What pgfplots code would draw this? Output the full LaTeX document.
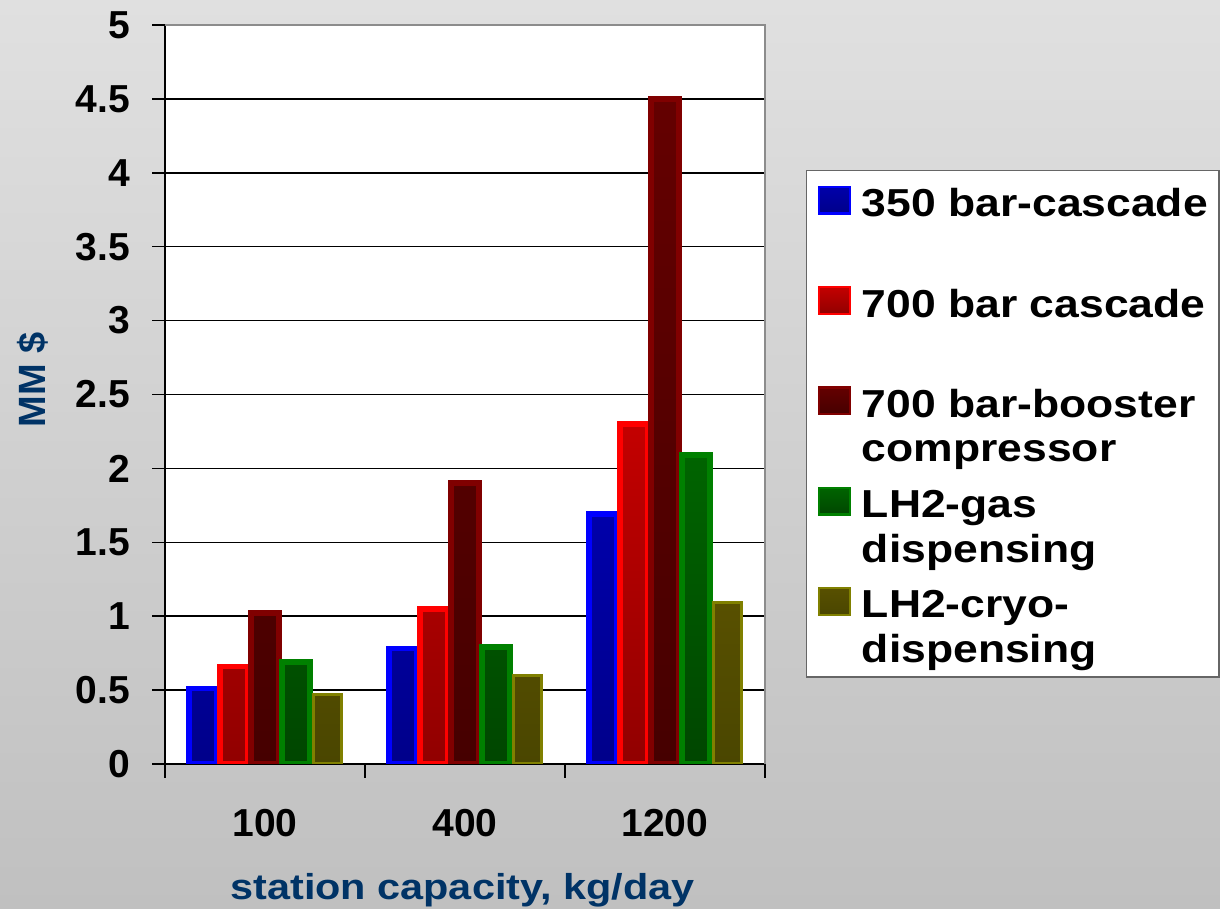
\documentclass[border=0pt]{standalone}
\usepackage{pgfplots}
\pgfplotsset{compat=1.18}
\usepackage{fontspec}
\setmainfont{Liberation Sans}
\usepackage{graphicx}

% page background and label colours
\definecolor{bgtop}{RGB}{224,224,224}
\definecolor{bgbot}{RGB}{192,192,192}
\definecolor{labelblue}{RGB}{0,51,102}

% bar borders and fills (top / bottom of the gradient)
\definecolor{blueB}{RGB}{0,0,255}
\definecolor{blueT}{RGB}{0,0,170}
\definecolor{blueD}{RGB}{0,0,138}
\definecolor{redB}{RGB}{255,0,0}
\definecolor{redT}{RGB}{195,0,0}
\definecolor{redD}{RGB}{145,0,0}
\definecolor{maroonB}{RGB}{128,0,0}
\definecolor{maroonT}{RGB}{100,0,0}
\definecolor{maroonD}{RGB}{70,0,0}
\definecolor{greenB}{RGB}{0,128,0}
\definecolor{greenT}{RGB}{0,100,0}
\definecolor{greenD}{RGB}{0,70,0}
\definecolor{oliveB}{RGB}{128,128,0}
\definecolor{oliveT}{RGB}{88,80,0}
\definecolor{oliveD}{RGB}{74,70,0}

% legend entry text: one or two left-aligned lines, first baseline on the swatch
\newcommand\lent[1]{\scalebox{1.14}[1]{\begin{tabular}[t]{@{}l@{}}#1\end{tabular}}}

\pgfplotsset{
  barleg/.style={legend image code/.code={\draw[##1, line width=1.2pt] (0.6pt,1.6pt) rectangle (16pt,14.9pt);}},
}

\begin{document}
\begin{tikzpicture}
\path[use as bounding box, top color=bgtop, bottom color=bgbot] (0,0) rectangle (610pt,454.5pt);
\begin{axis}[
  at={(82.5pt,72.5pt)}, anchor=south west,
  scale only axis, width=300pt, height=369.5pt,
  xmin=-0.5, xmax=2.5, ymin=0, ymax=5,
  axis lines=left,
  axis line style={-, line width=0.75pt, black},
  axis background/.style={fill=white},
  tick align=outside,
  major tick length=6.5pt,
  ytick={0,0.5,1,1.5,2,2.5,3,3.5,4,4.5,5},
  yticklabels={0,0.5,1,1.5,2,2.5,3,3.5,4,4.5,5},
  ytick style={draw=black, line width=0.75pt},
  xtick={0,1,2},
  xticklabels={100,400,1200},
  xtick style={draw=none},
  extra x ticks={-0.5,0.5,1.5,2.5},
  extra x tick labels={},
  extra x tick style={xtick style={draw=black, line width=0.75pt}, major tick length=7pt},
  ymajorgrids,
  grid style={black, line width=0.75pt},
  tick label style={font=\fontsize{19.5}{23}\selectfont\bfseries, text=black},
  xticklabel style={yshift=-12.5pt},
  yticklabel style={xshift=-7.5pt},
  xlabel={\scalebox{1.15}[1]{station capacity, kg/day}},
  xlabel style={at={(axis description cs:0.4958,0)}, anchor=base, yshift=-67.5pt,
    font=\fontsize{18}{20}\selectfont\bfseries, text=labelblue, inner sep=0pt},
  ylabel={MM \$},
  ylabel style={at={(axis description cs:-0.22,0.52)}, anchor=center,
    font=\fontsize{19}{21}\selectfont\bfseries, text=labelblue, inner sep=0pt},
  legend style={at={(axis description cs:1.0683,0.8038)}, anchor=north west,
    draw=black!60, line width=0.75pt, fill=white,
    inner xsep=5.5pt, inner ysep=1.2pt, row sep=0pt, column sep=5.5pt,
    font=\fontsize{19.5}{22.25}\selectfont\bfseries,
    cells={anchor=base west},
    nodes={inner sep=0pt, text height=21.8pt, text depth=28.35pt}},
  bar width=14pt,
  after end axis/.code={
    \draw[black!45, line width=1pt] (rel axis cs:0,1) -- (rel axis cs:1,1) -- (rel axis cs:1,0);
  },
]
\addplot[ybar, bar shift=-31pt, draw=blueB, line width=2.75pt, top color=blueT, bottom color=blueD, barleg]
  coordinates {(0,0.51) (1,0.78) (2,1.69)};
\addlegendentry{\lent{350 bar-cascade}}
\addplot[ybar, bar shift=-15.5pt, draw=redB, line width=2.75pt, top color=redT, bottom color=redD, barleg]
  coordinates {(0,0.66) (1,1.05) (2,2.30)};
\addlegendentry{\lent{700 bar cascade}}
\addplot[ybar, bar shift=0pt, draw=maroonB, line width=2.75pt, top color=maroonT, bottom color=maroonD, barleg]
  coordinates {(0,1.02) (1,1.90) (2,4.50)};
\addlegendentry{\lent{700 bar-booster\\compressor}}
\addplot[ybar, bar shift=15.5pt, draw=greenB, line width=2.75pt, top color=greenT, bottom color=greenD, barleg]
  coordinates {(0,0.69) (1,0.79) (2,2.09)};
\addlegendentry{\lent{LH2-gas\\dispensing}}
\addplot[ybar, bar shift=31pt, draw=oliveB, line width=1.5pt, top color=oliveT, bottom color=oliveD, barleg]
  coordinates {(0,0.47) (1,0.60) (2,1.09)};
\addlegendentry{\lent{LH2-cryo-\\dispensing}}
\end{axis}
\end{tikzpicture}
\end{document}
